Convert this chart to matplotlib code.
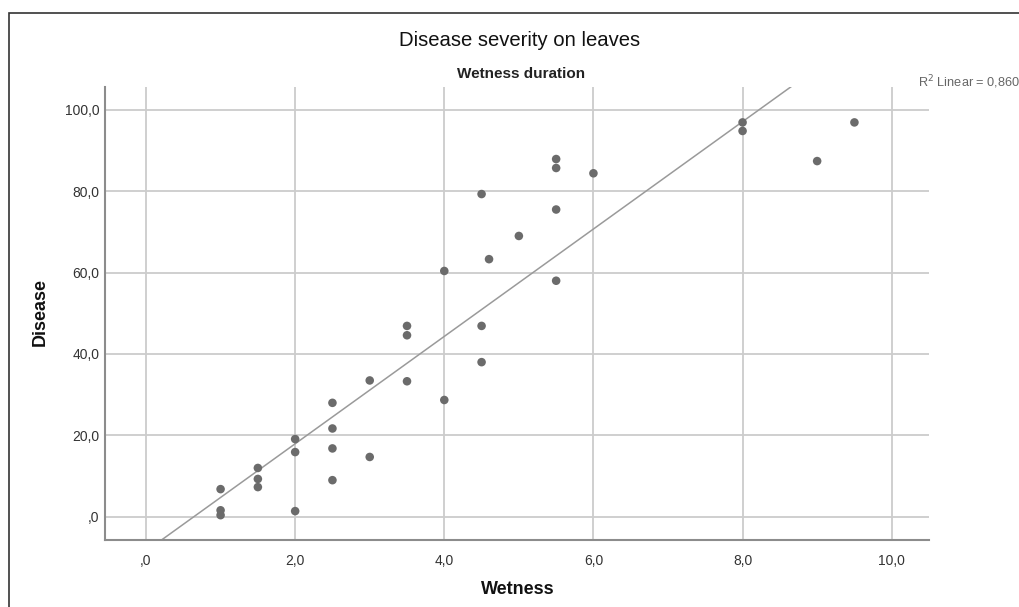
import numpy as np
import matplotlib
matplotlib.use("Agg")
import matplotlib.pyplot as plt
from matplotlib.ticker import FuncFormatter
from matplotlib.patches import Rectangle

plt.rcParams['font.family'] = ['Liberation Sans', 'DejaVu Sans']

# data
wetness = [1, 1, 1, 1.5, 1.5, 1.5, 2, 2, 2, 2.5, 2.5, 2.5, 2.5, 3, 3,
           3.5, 3.5, 3.5, 4, 4, 4.5, 4.5, 4.5, 4.6, 5, 5.5, 5.5, 5.5, 5.5,
           6, 8, 8, 9, 9.5]
disease = [6.8, 1.6, 0.4, 12.0, 9.3, 7.3, 19.1, 15.9, 1.4, 28.0, 21.7, 16.8, 9.0,
           33.5, 14.7, 46.9, 44.6, 33.3, 60.4, 28.7, 79.3, 46.9, 38.0, 63.3,
           69.0, 87.9, 85.7, 75.5, 58.0, 84.4, 96.9, 94.8, 87.4, 96.9]
r2_linear = 0.860
xticks = [0, 2, 4, 6, 8, 10]
yticks = [0, 20, 40, 60, 80, 100]

x = np.array(wetness)
y = np.array(disease)

W, H = 1019, 607
fig = plt.figure(figsize=(W / 100, H / 100), dpi=100)
ax = fig.add_axes([105 / W, 1 - 540 / H, (929 - 105) / W, (540 - 87) / H])

ax.set_xlim(-0.55, 10.5)
ax.set_ylim(-5.7, 105.6)
ax.set_xticks(xticks)
ax.set_yticks(yticks)

def spss_fmt(v, pos):
    s = "%.1f" % v
    s = s.replace(".", ",")
    if s.startswith("0,"):
        s = s[1:]
    return s

ax.xaxis.set_major_formatter(FuncFormatter(spss_fmt))
ax.yaxis.set_major_formatter(FuncFormatter(spss_fmt))
ax.tick_params(length=0, labelsize=10, colors="#333333", pad=4)
ax.tick_params(axis="x", pad=10)

ax.grid(True, color="#cccccc", lw=1.3)
ax.set_axisbelow(True)
for s in ["top", "right"]:
    ax.spines[s].set_visible(False)
for s in ["left", "bottom"]:
    ax.spines[s].set_color("#8c8c8c")
    ax.spines[s].set_linewidth(1.5)

# fit line
b, a = np.polyfit(x, y, 1)
xl = np.array([-1, 12])
ax.plot(xl, a + b * xl, color="#9a9a9a", lw=1.1, zorder=2)

ax.scatter(x, y, s=38, color="#6b6b6b", edgecolors="none", zorder=3)

fig.text(520 / W, 1 - 41 / H, "Disease severity on leaves", fontsize=14.6,
         ha="center", va="center", color="#111111")
fig.text(521 / W, 1 - 74 / H, "Wetness duration", fontsize=11,
         fontweight="bold", ha="center", va="center", color="#222222")
fig.text(518 / W, 1 - 589 / H, "Wetness", fontsize=13, fontweight="bold",
         ha="center", va="center", color="#111111")
fig.text(40 / W, 1 - 312 / H, "Disease", fontsize=13, fontweight="bold",
         ha="center", va="center", rotation=90, color="#111111")
fig.text(918 / W, 1 - 82 / H,
         "R$^2$ Linear = " + ("%.3f" % r2_linear).replace(".", ","),
         fontsize=9.2, ha="left", va="center", color="#666666")

# outer frame
fig.patches.append(Rectangle((9 / W, -0.1), 1.2, 1 - 13 / H + 0.1,
                             transform=fig.transFigure, fill=False,
                             edgecolor="#333333", lw=1.2))

fig.savefig("out.png", dpi=100)
